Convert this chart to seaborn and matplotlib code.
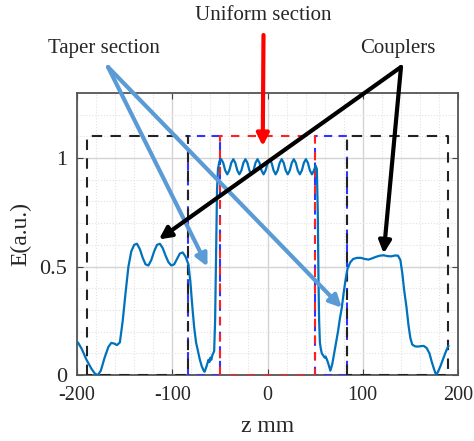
import numpy as np
import pandas as pd
import seaborn as sns
import matplotlib.pyplot as plt
from matplotlib.ticker import MultipleLocator

# field profile along the structure, one piece per section
z_left_coupler = [-199, -195, -190, -185, -181, -178, -175, -171, -167, -164, -161, -158,
                  -155, -152, -149, -146, -143, -140, -137, -134, -131, -128, -125, -122,
                  -119, -116, -113, -110, -107, -104, -101, -98, -95, -92, -89, -86, -83]
e_left_coupler = [0.15, 0.12, 0.07, 0.03, 0.005, 0.0, 0.02, 0.08, 0.13, 0.148, 0.145, 0.138,
                  0.15, 0.25, 0.38, 0.50, 0.57, 0.60, 0.605, 0.58, 0.54, 0.51, 0.505, 0.53,
                  0.57, 0.60, 0.605, 0.585, 0.55, 0.52, 0.505, 0.51, 0.535, 0.56, 0.565, 0.545, 0.51]

z_left_taper = [-81, -79, -77, -75, -73, -71, -69, -67, -66, -64, -62, -61, -60, -59,
                -58, -57, -56, -55, -54, -53, -52, -50.5]
e_left_taper = [0.43, 0.32, 0.22, 0.15, 0.11, 0.07, 0.04, 0.02, 0.015, 0.04, 0.07, 0.06, 0.08, 0.07,
                0.09, 0.10, 0.11, 0.25, 0.55, 0.85, 0.95, 0.985]

z_uniform = [-48.6, -46.5, -44.4, -42.25, -40.1, -38.0,
             -35.9, -33.8, -31.7, -29.55, -27.4, -25.3,
             -23.2, -21.1, -19.0, -16.85, -14.7, -12.6,
             -10.5, -8.4, -6.3, -4.15, -2.0, 0.1,
             2.2, 4.3, 6.4, 8.55, 10.7, 12.8,
             14.9, 17.0, 19.1, 21.25, 23.4, 25.5,
             27.6, 29.7, 31.8, 33.95, 36.1, 38.2,
             40.3, 42.4, 44.5, 46.65, 48.8, 50.5]
e_uniform = [0.995, 0.978, 0.943, 0.925, 0.943, 0.978,
             0.995, 0.978, 0.943, 0.925, 0.943, 0.978,
             0.995, 0.978, 0.943, 0.925, 0.943, 0.978,
             0.995, 0.978, 0.943, 0.925, 0.943, 0.978,
             0.995, 0.978, 0.943, 0.925, 0.943, 0.978,
             0.995, 0.978, 0.943, 0.925, 0.943, 0.978,
             0.995, 0.978, 0.943, 0.925, 0.943, 0.978,
             0.995, 0.978, 0.943, 0.925, 0.943, 0.965]

z_right_taper = [51.8, 52.8, 53.5, 54.2, 55, 56, 57, 58.5, 60, 61, 62.5, 64, 66, 68, 70,
                 72, 74, 76, 78, 80, 82]
e_right_taper = [0.95, 0.75, 0.45, 0.25, 0.15, 0.12, 0.10, 0.09, 0.08, 0.085, 0.07, 0.05, 0.02,
                 0.05, 0.10, 0.15, 0.20, 0.26, 0.31, 0.38, 0.44]

z_right_coupler = [84, 87, 90, 94, 98, 102, 106, 110, 114, 118, 122, 126, 130, 134, 137,
                   139.5, 141.5, 143.5, 146, 148, 150, 152, 155, 158, 161, 164, 167, 170,
                   172.5, 175, 177, 179, 181.5, 184.5, 187, 190]
e_right_coupler = [0.49, 0.52, 0.535, 0.54, 0.54, 0.535, 0.532, 0.538, 0.545, 0.55, 0.552, 0.548,
                   0.547, 0.551, 0.55, 0.53, 0.47, 0.39, 0.31, 0.23, 0.17, 0.14, 0.132, 0.131,
                   0.133, 0.134, 0.125, 0.10, 0.06, 0.025, 0.0, 0.015, 0.04, 0.075, 0.105, 0.135]

# section outlines (dashed boxes)
coupler_edges = [(-190, -83), (83, 190)]
taper_edges = [(-83, -50), (50, 83)]
uniform_edges = [(-50, 50)]
box_top = 1.1

x_ticks = [-200, -100, 0, 100, 200]
y_ticks = [0, 0.5, 1]
y_tick_labels = ["0", "0.5", "1"]

profile = pd.DataFrame({
    "z": z_left_coupler + z_left_taper + z_uniform + z_right_taper + z_right_coupler,
    "E": e_left_coupler + e_left_taper + e_uniform + e_right_taper + e_right_coupler,
})

sns.set_style("ticks")
plt.rcParams["font.family"] = ["Liberation Serif", "DejaVu Serif"]
plt.rcParams["axes.unicode_minus"] = False

fig = plt.figure(figsize=(4.74, 4.41), dpi=100)
ax = fig.add_axes([77 / 474, 1 - 375 / 441, 381 / 474, 282 / 441])

# grid, MATLAB-like
ax.xaxis.set_minor_locator(MultipleLocator(20))
ax.yaxis.set_minor_locator(MultipleLocator(0.1))
ax.grid(which="major", color="#d4d4d4", lw=1.0, ls="-")
ax.grid(which="minor", color="#e2e2e2", lw=0.8, ls=":")
ax.set_axisbelow(True)


def draw_box(a, b, color, dashes, lw=1.5):
    xs = [a, a, b, b, a]
    ys = [0, box_top, box_top, 0, 0]
    ax.plot(xs, ys, color=color, lw=lw, dashes=dashes, zorder=3)


for a, b in taper_edges:
    draw_box(a, b, "#3333ff", (4, 3))
for a, b in coupler_edges:
    draw_box(a, b, "#222222", (5, 4))
for a, b in uniform_edges:
    draw_box(a, b, "#ff2020", (4, 4))

sns.lineplot(data=profile, x="z", y="E", sort=False, estimator=None,
             color="#0072BD", lw=1.6, ax=ax, zorder=4)

ax.set_xlim(-200, 200)
ax.set_ylim(0, 1.3)
ax.set_xticks(x_ticks)
ax.set_yticks(y_ticks)
ax.set_yticklabels(y_tick_labels)
ax.tick_params(which="both", direction="in", top=True, right=True, labelsize=16,
               length=4, color="#444444")
ax.tick_params(axis="x", pad=8, labelsize=14.5)
ax.tick_params(axis="y", pad=7)
ax.tick_params(which="minor", length=0)
for s in ax.spines.values():
    s.set_color("#555555")
    s.set_linewidth(1.3)
ax.set_xlabel("z mm", fontsize=17, labelpad=8)
ax.set_ylabel("E(a.u.)", fontsize=17, labelpad=6)

# annotation texts and arrows (tails in figure pixels)
W, H = 474, 441


def fig_pt(px, py):
    return (px / W, 1 - py / H)


fig.text(*fig_pt(263, 15), "Uniform section", ha="center", va="center", fontsize=15)
fig.text(*fig_pt(104, 48), "Taper section", ha="center", va="center", fontsize=15)
fig.text(*fig_pt(398, 48), "Couplers", ha="center", va="center", fontsize=15)

arrows = [
    ((-5, 1.055), fig_pt(263.5, 35), "#ff0000"),
    ((-63, 0.50), fig_pt(108, 67), "#5b9bd5"),
    ((78, 0.31), fig_pt(108, 67), "#5b9bd5"),
    ((-114, 0.625), fig_pt(401, 67), "#000000"),
    ((122, 0.56), fig_pt(401, 67), "#000000"),
]
for head, tail, col in arrows:
    ax.annotate("", xy=head, xycoords="data", xytext=tail, textcoords="figure fraction",
                arrowprops=dict(arrowstyle="-|>", color=col, lw=3, mutation_scale=18,
                                shrinkA=0, shrinkB=0), zorder=6)

fig.savefig("out.png", dpi=100)
